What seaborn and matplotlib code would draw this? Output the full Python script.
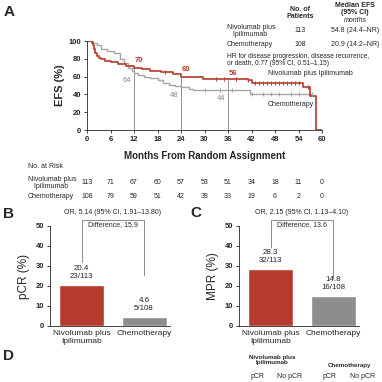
import numpy as np
import pandas as pd
import matplotlib
matplotlib.use("Agg")
import matplotlib.pyplot as plt
import seaborn as sns

# Kaplan-Meier curves
nivo_t = [0, 1.2, 1.5, 1.8, 2.1, 2.5, 3.0, 3.5, 4.5, 6.0, 8.0, 10.0, 12.0, 14.0, 15.7, 16.0, 19.0,
          22.0, 24.0, 28.5, 29.5, 41.0, 42.0, 55.2, 57.0, 58.4, 60.0]
nivo_s = [100, 98, 95, 91, 86, 83, 81, 80, 78, 76, 74, 72, 70, 69, 68, 66, 65,
          63, 60, 60, 57, 56, 53, 48, 38, 0, 0]
chemo_t = [0, 1.5, 2.5, 3.5, 5.0, 7.0, 8.5, 9.5, 10.5, 11.5, 12.0, 13.0, 14.5, 16.0, 18.0, 19.5,
           21.0, 22.5, 24.0, 26.0, 27.0, 41.5, 57.5]
chemo_s = [100, 98, 95, 91, 89, 86, 80, 75, 70, 66, 64, 62, 60, 58, 56, 53,
           51, 49, 48, 46, 45, 41, 41]
nivo_cens = [20, 33, 35, 38, 41, 43, 44, 45, 46, 47, 48, 49, 50, 51, 52, 53, 54, 56.5]
chemo_cens = [30, 34, 37, 42, 45, 47, 49, 52, 54, 57.5]
landmarks = [12, 24, 36]
nivo_land = [70, 60, 56]
chemo_land = [64, 48, 44]

risk_months = [0, 6, 12, 18, 24, 30, 36, 42, 48, 54, 60]
risk_nivo = [113, 71, 67, 60, 57, 53, 51, 34, 18, 11, 0]
risk_chemo = [108, 79, 59, 51, 42, 38, 33, 19, 6, 2, 0]

arms = ["Nivolumab plus\nIpilimumab", "Chemotherapy"]
pcr = [20.4, 4.6]
pcr_n = ["23/113", "5/108"]
mpr = [28.3, 14.8]
mpr_n = ["32/113", "16/108"]

RED = "#b53b2c"
GREY_LINE = "#a6a6a6"
GREY_BAR = "#8e8c8d"

sns.set_style("ticks")
plt.rcParams["font.family"] = ["Liberation Sans", "DejaVu Sans"]
plt.rcParams["axes.linewidth"] = 0.6
plt.rcParams["xtick.major.width"] = 0.6
plt.rcParams["ytick.major.width"] = 0.6
plt.rcParams["xtick.major.size"] = 2.5
plt.rcParams["ytick.major.size"] = 2.5

W = 382.0
fig = plt.figure(figsize=(3.82, 3.82), dpi=100)


def box(l, t, r, b):
    return [l / W, 1 - b / W, (r - l) / W, (b - t) / W]


def ftext(x, y, s, **kw):
    fig.text(x / W, 1 - y / W, s, **kw)


def step_at(ts, ss, x):
    i = np.searchsorted(ts, x, side="right") - 1
    return ss[i]


# ---------- Panel A ----------
axA = fig.add_axes(box(87, 41, 322, 130))
km = pd.concat([
    pd.DataFrame({"t": nivo_t, "s": nivo_s, "arm": "nivo"}),
    pd.DataFrame({"t": chemo_t, "s": chemo_s, "arm": "chemo"}),
])
sns.lineplot(data=km[km.arm == "chemo"], x="t", y="s", drawstyle="steps-post",
             color=GREY_LINE, lw=1.0, ax=axA, estimator=None)
sns.lineplot(data=km[km.arm == "nivo"], x="t", y="s", drawstyle="steps-post",
             color=RED, lw=1.2, ax=axA, estimator=None)
axA.plot(nivo_cens, [step_at(nivo_t, nivo_s, c) for c in nivo_cens], ls="none",
         marker="|", ms=3, mew=0.7, color=RED)
axA.plot(chemo_cens, [step_at(chemo_t, chemo_s, c) for c in chemo_cens], ls="none",
         marker="|", ms=3, mew=0.7, color=GREY_LINE)
for m, v in zip(landmarks, nivo_land):
    axA.plot([m, m], [0, v], color="#666666", lw=0.5, zorder=0)
for m, v in zip(landmarks, nivo_land):
    axA.text(m + 1.2, v + 6, str(v), color=RED, fontsize=5.5, fontweight="bold", ha="center")
for m, v in zip(landmarks, chemo_land):
    axA.text(m - 1.8, v - 5, str(v), color="#888888", fontsize=5.5, ha="center", va="top")
axA.text(46.2, 63, "Nivolumab plus Ipilimumab", fontsize=5, va="center")
axA.text(46.2, 29, "Chemotherapy", fontsize=5, va="center")
axA.set_xlim(0, 60)
axA.set_ylim(0, 100)
axA.set_xticks(risk_months)
axA.set_yticks(range(0, 101, 20))
axA.tick_params(labelsize=5.5, pad=1.5)
for lab in axA.get_xticklabels() + axA.get_yticklabels():
    lab.set_fontweight("bold")
axA.set_xlabel("")
axA.set_ylabel("EFS (%)", fontsize=8, fontweight="bold", labelpad=3)
sns.despine(ax=axA)

ftext(9, 12, "A", fontsize=11, fontweight="bold", ha="center", va="center")
ftext(205, 156, "Months From Random Assignment", fontsize=7, fontweight="bold",
      ha="center", va="center")

# legend table
ftext(300, 13, "No. of\nPatients", fontsize=5, fontweight="bold", ha="center", va="center",
      linespacing=0.95)
ftext(355, 9, "Median EFS\n(95% CI)", fontsize=5, fontweight="bold", ha="center", va="center",
      linespacing=0.95)
ftext(355, 20, "months", fontsize=5, style="italic", ha="center", va="center")
ftext(227, 31, "Nivolumab plus\n   Ipilimumab", fontsize=5, ha="left", va="center",
      linespacing=0.95)
ftext(300, 31, "113", fontsize=5, ha="center", va="center")
ftext(355, 31, "54.8 (24.4\u2013NR)", fontsize=5, ha="center", va="center")
ftext(227, 44, "Chemotherapy", fontsize=5, ha="left", va="center")
ftext(300, 44, "108", fontsize=5, ha="center", va="center")
ftext(355, 44, "20.9 (14.2\u2013NR)", fontsize=5, ha="center", va="center")
ftext(227, 60, "HR for disease progression, disease recurrence,\nor death, 0.77 (95% CI, 0.51\u20131.15)",
      fontsize=4.8, ha="left", va="center", linespacing=1.1)

# number at risk
ftext(28, 166, "No. at Risk", fontsize=5, ha="left", va="center")
ftext(28, 183, "Nivolumab plus\n   Ipilimumab", fontsize=5, ha="left", va="center",
      linespacing=0.95)
ftext(28, 197, "Chemotherapy", fontsize=5, ha="left", va="center")
for m, a, b in zip(risk_months, risk_nivo, risk_chemo):
    px = 87 + m * (322 - 87) / 60
    ftext(px, 183, str(a), fontsize=5, ha="center", va="center")
    ftext(px, 197, str(b), fontsize=5, ha="center", va="center")


# ---------- Panels B and C ----------
def bar_panel(ax, vals, counts, ylabel, orr, diff, lines):
    df = pd.DataFrame({"arm": arms, "val": vals})
    sns.barplot(data=df, x="arm", y="val", hue="arm", palette=[RED, GREY_BAR],
                width=0.72, ax=ax, legend=False, saturation=1)
    ax.set_xlim(-0.504, 1.416)
    ax.set_ylim(0, 50)
    ax.set_yticks(range(0, 51, 10))
    ax.tick_params(labelsize=5.5, pad=1.5)
    for lab in ax.get_yticklabels():
        lab.set_fontweight("bold")
    ax.tick_params(axis="x", length=0, labelsize=6, pad=3)
    ax.set_xlabel("")
    ax.set_ylabel(ylabel, fontsize=8.5, labelpad=4)
    sns.despine(ax=ax)
    for i, (v, c) in enumerate(zip(vals, counts)):
        ax.text(i, v + 2.5, f"{v}\n{c}", ha="center", va="bottom", fontsize=5.7,
                linespacing=1.2)
    lo_l, lo_r = lines
    ax.plot([0, 0, 1, 1], [lo_l, 53, 53, lo_r], color="#8a8a8a", lw=0.7, clip_on=False)
    ax.text(0.5, 50.5, diff, ha="center", va="center", fontsize=5)
    ax.text(0.5, 56.5, orr, ha="center", va="center", fontsize=5)


axB = fig.add_axes(box(50, 226, 170, 326))
bar_panel(axB, pcr, pcr_n, "pCR (%)", "OR, 5.14 (95% CI, 1.91\u201313.80)", "Difference, 15.9",
          (32, 25.5))
axC = fig.add_axes(box(239, 226, 359, 326))
bar_panel(axC, mpr, mpr_n, "MPR (%)", "OR, 2.15 (95% CI, 1.13\u20134.10)", "Difference, 13.6",
          (39.5, 24))

ftext(9, 214, "B", fontsize=11, fontweight="bold", ha="center", va="center")
ftext(196, 213, "C", fontsize=11, fontweight="bold", ha="center", va="center")

# ---------- Panel D header ----------
ftext(9, 356, "D", fontsize=11, fontweight="bold", ha="center", va="center")
ftext(272, 360, "Nivolumab plus\nIpilimumab", fontsize=4.5, fontweight="bold", ha="center",
      va="center", linespacing=0.95)
ftext(350, 366, "Chemotherapy", fontsize=4.5, fontweight="bold", ha="center", va="center")
for x, s in zip([258, 290, 330, 363], ["pCR", "No pCR", "pCR", "No pCR"]):
    ftext(x, 376, s, fontsize=5, ha="center", va="center")

fig.savefig("out.png", dpi=100)
